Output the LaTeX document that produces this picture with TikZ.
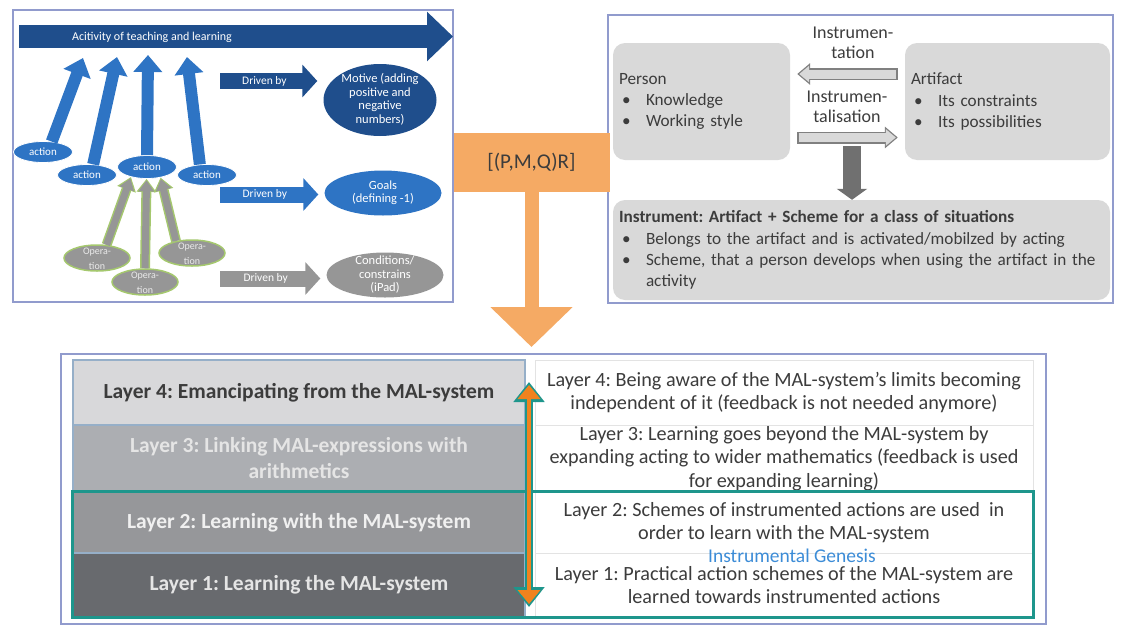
\documentclass[tikz,border=0pt]{standalone}
\usepackage{fontspec}
\setmainfont{Carlito}
\frenchspacing
\usepackage{xcolor}
\definecolor{ColNavy}{RGB}{31,78,140}
\definecolor{ColBlue}{RGB}{46,116,196}
\definecolor{ColGrey}{RGB}{150,150,150}
\definecolor{ColDark}{RGB}{112,112,112}
\definecolor{ColSoft}{RGB}{217,217,217}
\definecolor{ColLeaf}{RGB}{165,200,110}
\definecolor{ColFrame}{RGB}{145,155,205}
\definecolor{ColPeach}{RGB}{245,170,100}
\definecolor{ColAmber}{RGB}{240,130,30}
\definecolor{ColTeal}{RGB}{30,150,140}
\definecolor{ColSky}{RGB}{60,140,215}
\definecolor{ColSep}{RGB}{150,175,200}
\definecolor{ColInk}{RGB}{60,60,60}
\definecolor{ColL4}{RGB}{216,216,218}
\definecolor{ColL3}{RGB}{172,174,178}
\definecolor{ColL2}{RGB}{150,151,154}
\definecolor{ColL1}{RGB}{104,106,110}
\usepackage{tikz}
\usetikzlibrary{shapes}
\usetikzlibrary{fit}
\usetikzlibrary{arrows.meta}
\newcommand{\Fs}[2]{\fontsize{#1}{#2}\selectfont}
\newcommand{\Item}{\makebox[27pt][l]{\hspace{3pt}\textbullet}}
\newcommand{\Flat}[1]{\raisebox{-3.5pt}[0pt][0pt]{\begin{tabular}{@{}c@{}}#1\end{tabular}}}
\tikzstyle{Frame}=[draw=ColFrame,line width=1.3pt]
\tikzstyle{Action}=[ellipse,fill=ColBlue,draw=white,line width=.8pt,text=white,
inner sep=0pt,minimum width=59pt,minimum height=21pt,font=\Fs{11}{12}]
\tikzstyle{Operation}=[ellipse,fill=ColGrey,draw=ColLeaf,line width=1.5pt,
text=white!92!black,inner sep=0pt,minimum width=66pt,minimum height=26pt,
font=\Fs{10}{15}]
\tikzstyle{Goal}=[ellipse,inner sep=0pt,text=white,font=\Fs{12.5}{13.5}]
\tikzstyle{UpEdge}=[draw=ColBlue,line width=12pt,-{Triangle[width=28pt,length=17pt]}]
\tikzstyle{OpEdge}=[draw=ColGrey,line width=7pt,shorten >=1.5pt,
-{Triangle[width=15pt,length=11pt]},
preaction={draw=ColLeaf,line width=10pt,shorten >=0pt,-{Triangle[width=19pt,length=13pt]}}]
\tikzstyle{DriveEdge}=[line width=16pt,shorten >=6pt,-{Triangle[width=32pt,length=15pt]}]
\tikzstyle{DriveText}=[text=white,font=\Fs{11.5}{12}]
\tikzstyle{Soft}=[rounded corners=12pt,fill=ColSoft,inner xsep=6pt,inner ysep=0pt,
align=left,text=ColInk,font=\Fs{17.2}{21.3}]
\tikzstyle{Lbl}=[align=center,text=ColInk,font=\Fs{18}{20.5}]
\tikzstyle{Hollow}=[draw=ColSoft,line width=9pt,shorten <=8.5pt,shorten >=9pt,
-{Triangle[width=16pt,length=10pt]},
preaction={draw=gray,line width=12pt,shorten <=7pt,shorten >=7pt,
-{Triangle[width=21pt,length=13pt]}}]
\tikzstyle{Drop}=[draw=ColDark,line width=18pt,-{Triangle[width=30pt,length=11pt]}]
\tikzstyle{Tee}=[draw=ColPeach,line width=14pt,-{Triangle[width=80pt,length=40pt]}]
\tikzstyle{LayerL}=[draw=ColSep,line width=1.5pt,minimum width=452pt,inner sep=0pt,
align=center,font=\bfseries\Fs{21.5}{26}]
\tikzstyle{LayerR}=[draw=gray!22,line width=1pt,fill=white,minimum width=498pt,
inner sep=0pt,align=center,text=ColInk,font=\Fs{20.2}{23.5}]
\tikzstyle{Both}=[draw=ColAmber,line width=4.5pt,shorten <=3pt,shorten >=3pt,
{Triangle[width=22pt,length=14pt]}-{Triangle[width=22pt,length=14pt]},
preaction={draw=ColTeal,line width=8.5pt,shorten <=0pt,shorten >=0pt,
{Triangle[width=30pt,length=20pt]}-{Triangle[width=30pt,length=20pt]}}]

\begin{document}
\begin{tikzpicture}[x=1pt,y=-1pt]
    \useasboundingbox(0,0)rectangle(1122,627);
    % activity system
    \draw[Frame](13,10)rectangle(453,302);
    \coordinate(actL)at(19,36.5);
    \coordinate(actR)at(453,36.5);
    \draw[draw=ColNavy,line width=23pt,-{Triangle[width=48pt,length=26pt]}](actL)--(actR);
    \node[text=white,font=\Fs{12}{14}](act)at(152,37){Acitivity of teaching and learning};
    \node[Action](a1)at(43,152){action};
    \node[Action](a2)at(87,175){action};
    \node[Action](a4)at(207,175){action};
    \node[Action,minimum height=23pt](a3)at(147,167){action};
    \coordinate(t1)at(83,58);
    \coordinate(t2)at(117,57);
    \coordinate(t3)at(148,55);
    \coordinate(t4)at(187,57);
    \draw[UpEdge](a1.50)--(t1);
    \draw[UpEdge](a2.60)--(t2);
    \draw[UpEdge](a3.90)--(t3);
    \draw[UpEdge](a4.124)--(t4);
    \node[Operation](o1)at(97,258){\Flat{Opera-\\tion}};
    \node[Operation](o3)at(192,253){\Flat{Opera-\\tion}};
    \node[Operation](o2)at(145,282){\Flat{Opera-\\tion}};
    \draw[OpEdge](o1.54)--(a3.212);
    \draw[OpEdge](o2.90)--(a3.268);
    \draw[OpEdge](o3.143)--(a3.322);
    \node[Goal,fill=ColNavy,minimum width=113pt,minimum height=72pt](motive)at(380,100)
        {\Flat{Motive (adding\\positive and\\negative\\numbers)}};
    \node[Goal,fill=ColBlue,minimum width=117pt,minimum height=45pt](goals)at(383,193)
        {\Flat{Goals\\(defining -1)}};
    \node[Goal,fill=ColGrey,minimum width=117pt,minimum height=45pt](cond)at(385,275)
        {\Flat{Conditions/\\constrains\\(iPad)}};
    \coordinate(d1)at(220,81);
    \coordinate(d2)at(220,194.5);
    \coordinate(d3)at(220,278.5);
    \draw[DriveEdge,draw=ColNavy](d1)--(d1-|motive.west)node[DriveText,pos=.43]{Driven by};
    \draw[DriveEdge,draw=ColBlue](d2)--(d2-|goals.west)node[DriveText,pos=.43]{Driven by};
    \draw[DriveEdge,draw=ColGrey](d3)--(d3-|cond.west)node[DriveText,pos=.43]{Driven by};
    % instrumental genesis
    \draw[Frame](608,15)rectangle(1113,303);
    \node[Soft,text width=165pt,minimum height=117pt](pers)at(701.5,101.5)
        {Person\\\Item Knowledge\\\Item Working style};
    \node[Soft,text width=193pt,minimum height=117pt](art)at(1007.5,101.5)
        {Artifact\\\Item Its constraints\\\Item Its possibilities};
    \node[Soft,text width=485pt,minimum height=100pt](inst)at(861.5,250)
        {\textbf{Instrument: Artifact + Scheme for a class of situations}\\
        \Item Belongs to the artifact and is activated/mobilzed by acting\\
        \Item Scheme, that a person develops when using the artifact in the\\
        \hspace*{27pt}activity};
    \node[Lbl](tn)at(853,43){Instrumen-\\tation};
    \node[Lbl](ts)at(847,107){Instrumen-\\talisation};
    \draw[Hollow]([yshift=27.5pt]art.west)--([yshift=27.5pt]pers.east);
    \draw[Hollow]([yshift=-36pt]pers.east)--([yshift=-36pt]art.west);
    \coordinate(gen)at(852,146);
    \draw[Drop](gen)--(gen|-inst.north);
    % link
    \node[fill=ColPeach,minimum width=156pt,minimum height=59pt,inner sep=0pt,
        text=ColInk,font=\Fs{21}{24}](pmqr)at(531.5,162.5){[(P,M,Q)R]};
    \coordinate(tee)at(531.5,347);
    \draw[Tee](pmqr.south)--(tee);
    % layers
    \draw[Frame](61,354)rectangle(1046,624);
    \node[LayerL,fill=ColL4,text=ColInk,minimum height=65pt](L4)at(299,392.5)
        {Layer 4: Emancipating from the MAL-system};
    \node[LayerL,fill=ColL3,text=white!90!black,minimum height=67pt](L3)at(299,458.5)
        {Layer 3: Linking MAL-expressions with\\arithmetics};
    \node[LayerL,fill=ColL2,text=white!94!black,minimum height=61pt](L2)at(299,522.5)
        {Layer 2: Learning with the MAL-system};
    \node[LayerL,fill=ColL1,text=white!90!black,minimum height=64pt](L1)at(299,585)
        {Layer 1: Learning the MAL-system};
    \node[LayerR,minimum height=65pt](R4)at(784,392.5)
        {Layer 4: Being aware of the MAL-system’s limits becoming\\
        independent of it (feedback is not needed anymore)};
    \node[LayerR,minimum height=67pt](R3)at(784,458.5)
        {Layer 3: Learning goes beyond the MAL-system by\\
        expanding acting to wider mathematics (feedback is used\\
        for expanding learning)};
    \node[LayerR,minimum height=61pt](R2)at(784,522.5)
        {Layer 2: Schemes of instrumented actions are used \ in\\
        order to learn with the MAL-system};
    \node[LayerR,minimum height=64pt](R1)at(784,585)
        {Layer 1: Practical action schemes of the MAL-system are\\
        learned towards instrumented actions};
    \node[text=ColSky,font=\Fs{19.5}{21}](genesis)at(792,555.5){Instrumental Genesis};
    \node[fit=(L2)(R1),draw=ColTeal,line width=2.5pt,inner sep=0pt](zone){};
    \coordinate(up)at(529,382);
    \coordinate(dn)at(529,607);
    \draw[Both](up)--(dn);
\end{tikzpicture}
\end{document}
